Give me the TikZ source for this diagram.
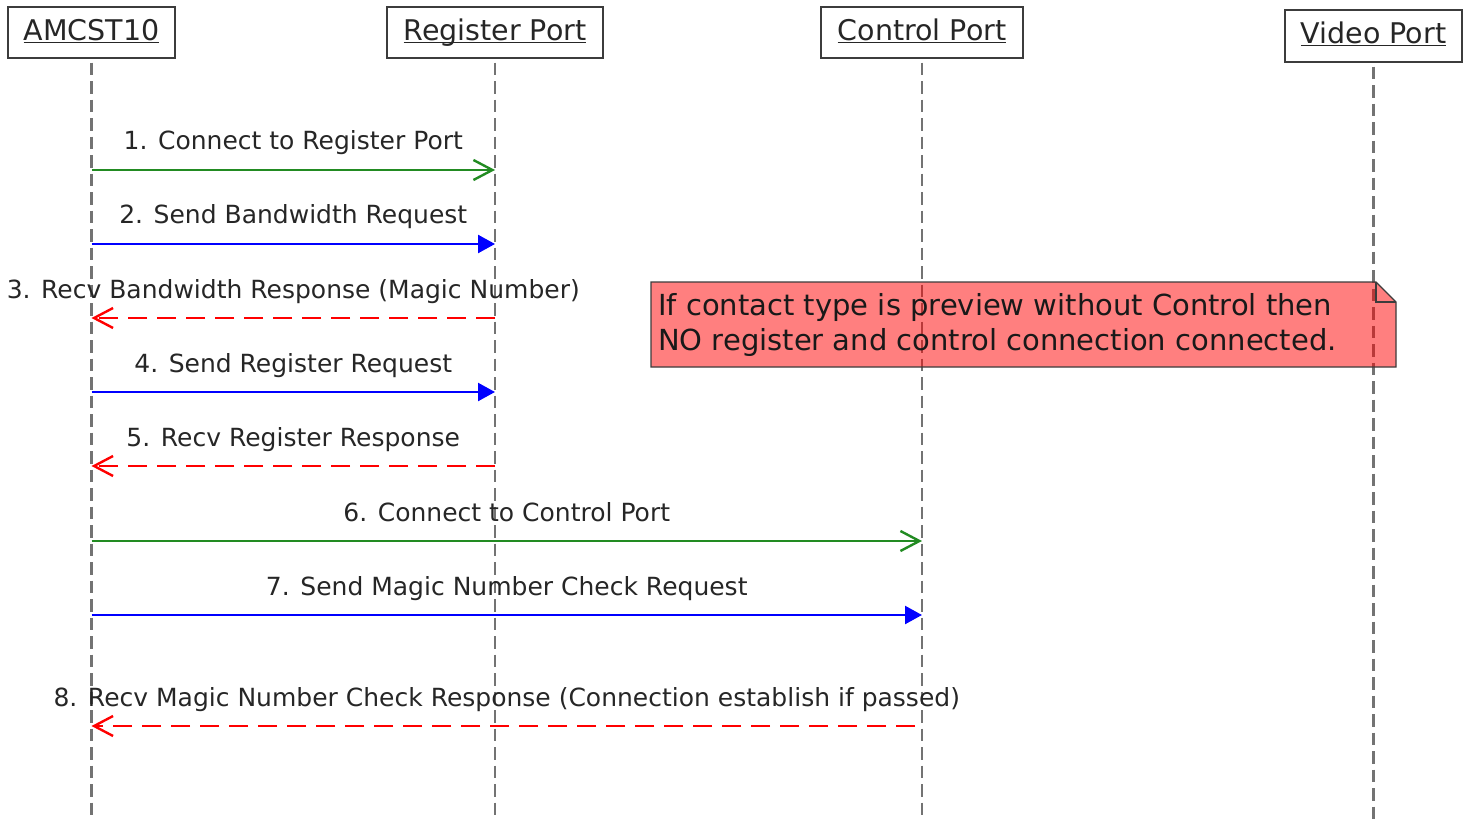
\documentclass[tikz,border=0pt]{standalone}
\usepackage{fontspec}
\setmainfont{DejaVu Sans}
\usetikzlibrary{arrows.meta}

\definecolor{callgreen}{RGB}{34,139,34}
\definecolor{reqblue}{RGB}{0,0,255}
\definecolor{retred}{RGB}{255,0,0}
\definecolor{lifegray}{RGB}{115,115,115}
\definecolor{framegray}{RGB}{60,60,60}

% underlined participant name with the rule at a fixed distance below the baseline
\newcommand\actorname[1]{\underline{\smash{#1}}}

\tikzset{
  actor/.style={draw=framegray, line width=1.3pt, fill=white, minimum height=51pt,
    inner sep=0pt, text height=21pt, text depth=5pt,
    font=\fontsize{28.5}{34}\selectfont, text=black!85},
  lifeline/.style={draw=lifegray, line width=2.4pt, dash pattern=on 12.5pt off 6pt},
  msglabel/.style={midway, anchor=base, yshift=20pt, inner sep=0pt,
    font=\fontsize{25}{30}\selectfont, text=black!85},
  connectmsg/.style={draw=callgreen, line width=2.4pt,
    -{Straight Barb[length=19pt, width=20pt, line width=2.4pt]}},
  requestmsg/.style={draw=reqblue, line width=2.4pt,
    -{Triangle[length=17pt, width=18pt]}},
  replymsg/.style={draw=retred, line width=2.4pt, dash pattern=on 19pt off 10pt,
    -{Straight Barb[length=19pt, width=20pt, line width=2.4pt]}},
}

\begin{document}
\begin{tikzpicture}[x=1pt, y=-1pt]
\useasboundingbox (0,0) rectangle (1472,821);

% participants
\node[actor, minimum width=167pt] (amc) at (91.5,32.5) {\actorname{AMCST10}};
\node[actor, minimum width=216pt] (reg) at (495,32.5) {\actorname{Register Port}};
\node[actor, minimum width=202pt] (ctl) at (922,32.5) {\actorname{Control Port}};
\node[actor, minimum width=177pt, minimum height=52pt] (vid) at (1373.5,36) {\actorname{Video Port}};

% lifelines
\coordinate (bottom) at (0,821);
\foreach \p in {amc,reg,ctl,vid}
  \draw[lifeline] ([yshift=-4pt]\p.south) -- (\p.south |- bottom);

% note over Control Port and Video Port
\coordinate (nA) at (651,282);
\coordinate (nB) at (1376,282);
\coordinate (nC) at (1396,302);
\coordinate (nD) at (1396,367);
\coordinate (nE) at (651,367);
\fill[retred, fill opacity=0.5] (nA) -- (nB) -- (nC) -- (nD) -- (nE) -- cycle;
\draw[framegray, line width=1.2pt] (nA) -- (nB) -- (nC) -- (nD) -- (nE) -- cycle;
\draw[framegray, line width=1.2pt] (nB) -- (nB |- nC) -- (nC);
\node[anchor=west, inner sep=0pt, align=left, font=\fontsize{29}{35}\selectfont, text=black!90]
  (note) at (658,325) {If contact type is preview without Control then\\NO register and control connection connected.};

% message rows
\coordinate (m1) at (0,170);
\coordinate (m2) at (0,244);
\coordinate (m3) at (0,318);
\coordinate (m4) at (0,392);
\coordinate (m5) at (0,466);
\coordinate (m6) at (0,541);
\coordinate (m7) at (0,615);
\coordinate (m8) at (0,726);

\draw[connectmsg] (amc |- m1) -- node[msglabel]{1. Connect to Register Port} (reg |- m1);
\draw[requestmsg] (amc |- m2) -- node[msglabel]{2. Send Bandwidth Request} (reg |- m2);
\draw[replymsg] (reg |- m3) -- node[msglabel]{3. Recv Bandwidth Response (Magic Number)} (amc |- m3);
\draw[requestmsg] (amc |- m4) -- node[msglabel]{4. Send Register Request} (reg |- m4);
\draw[replymsg] (reg |- m5) -- node[msglabel]{5. Recv Register Response} (amc |- m5);
\draw[connectmsg] (amc |- m6) -- node[msglabel]{6. Connect to Control Port} (ctl |- m6);
\draw[requestmsg] (amc |- m7) -- node[msglabel]{7. Send Magic Number Check Request} (ctl |- m7);
\draw[replymsg] ([xshift=-7pt]ctl |- m8) -- node[msglabel, xshift=3.5pt]{8. Recv Magic Number Check Response (Connection establish if passed)} (amc |- m8);
\end{tikzpicture}
\end{document}
